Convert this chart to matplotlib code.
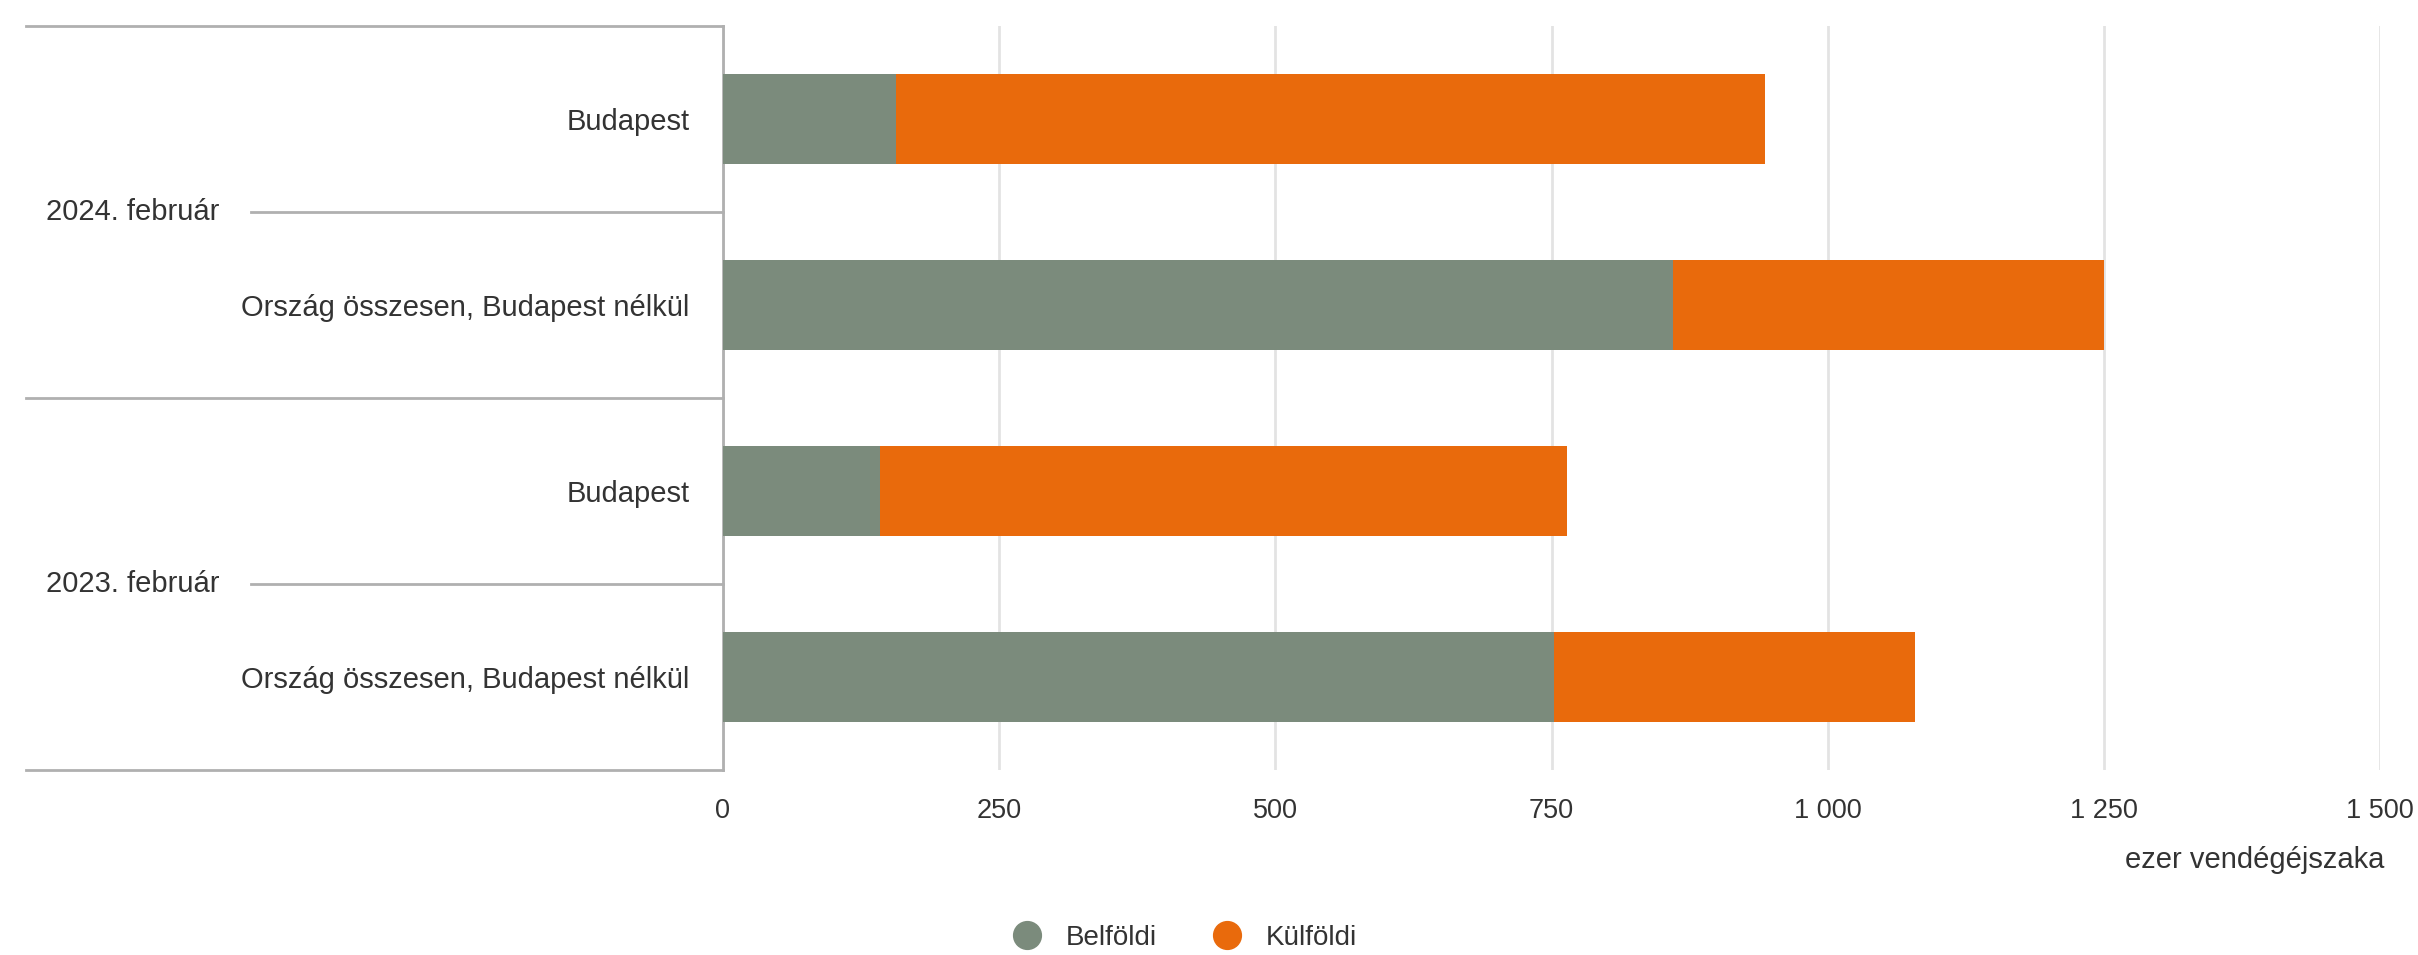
import matplotlib
matplotlib.use('Agg')
import matplotlib.pyplot as plt
import matplotlib.transforms as mtransforms
from matplotlib.lines import Line2D
from matplotlib.ticker import FuncFormatter

plt.rcParams['font.family'] = ['Liberation Sans', 'DejaVu Sans']

# data (ezer vendégéjszaka)
groups = ['2024. február', '2023. február']
regions = ['Budapest', 'Ország összesen, Budapest nélkül',
           'Budapest', 'Ország összesen, Budapest nélkül']
belfoldi = [157, 860, 142, 752]
kulfoldi = [786, 390, 622, 327]
xticks = [0, 250, 500, 750, 1000, 1250, 1500]

c_bel = '#7b8b7c'
c_kul = '#e96a0c'
txt = '#333333'
line_c = '#b0b0b0'

fig = plt.figure(figsize=(24.18, 9.55), dpi=100)
ax = fig.add_axes([723 / 2418, 185 / 955, (2380 - 723) / 2418, (929 - 185) / 955])

ypos = list(range(len(regions)))
ax.barh(ypos, belfoldi, height=0.48, color=c_bel, zorder=3)
ax.barh(ypos, kulfoldi, left=belfoldi, height=0.48, color=c_kul, zorder=3)

ax.set_xlim(0, 1500)
ax.set_ylim(len(regions) - 0.5, -0.5)
ax.set_xticks(xticks)
ax.xaxis.set_major_formatter(FuncFormatter(lambda v, p: '{:,}'.format(int(v)).replace(',', ' ')))
ax.set_yticks(ypos)
ax.set_yticklabels(regions)
ax.tick_params(axis='y', length=0, pad=24, labelsize=21, labelcolor=txt)
ax.tick_params(axis='x', length=0, pad=20, labelsize=19.5, labelcolor=txt)
ax.grid(axis='x', color='#e3e3e3', linewidth=2, zorder=0)

for s in ['top', 'right', 'bottom']:
    ax.spines[s].set_visible(False)
ax.spines['left'].set_color(line_c)
ax.spines['left'].set_linewidth(2)

# hierarchical category lines on the left
tr = mtransforms.blended_transform_factory(ax.transAxes, ax.transData)
x_far = (26 - 723) / (2380 - 723)
x_mid = (251 - 723) / (2380 - 723)
x_txt = (46 - 723) / (2380 - 723)
for yb in [-0.5, 1.5, 3.5]:
    ax.add_line(Line2D([x_far, 0], [yb, yb], transform=tr, color=line_c, lw=2, clip_on=False))
for i, g in enumerate(groups):
    yc = 2 * i + 0.5
    ax.add_line(Line2D([x_mid, 0], [yc, yc], transform=tr, color=line_c, lw=2, clip_on=False))
    ax.text(x_txt, yc, g, transform=tr, ha='left', va='center', fontsize=21, color=txt)

fig.text(2384 / 2418, 1 - 860 / 955, 'ezer vendégéjszaka', ha='right', va='center',
         fontsize=21, color=txt)

handles = [Line2D([], [], marker='o', linestyle='none', markersize=20, color=c_bel),
           Line2D([], [], marker='o', linestyle='none', markersize=20, color=c_kul)]
fig.legend(handles, ['Belföldi', 'Külföldi'], loc='center', ncol=2,
           bbox_to_anchor=(1178 / 2418, 1 - 938 / 955), frameon=False,
           fontsize=20, labelcolor=txt, handletextpad=0.4, columnspacing=1.5)

fig.savefig('out.png', dpi=100)
